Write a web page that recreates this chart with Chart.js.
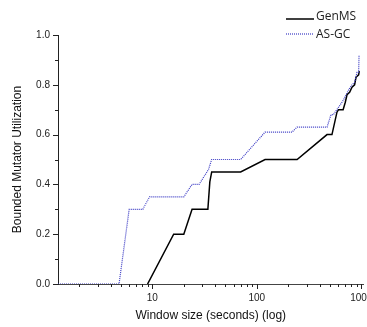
<!DOCTYPE html>
<html>
<head>
<meta charset="utf-8">
<script src="https://cdn.jsdelivr.net/npm/chart.js@4/dist/chart.umd.min.js"></script>
<style>
  html, body { margin: 0; padding: 0; background: #fff; }
  #wrap { width: 367px; height: 327px; }
</style>
</head>
<body>
<div id="wrap"><canvas id="c" width="367" height="327"></canvas></div>
<script>
// ---- data ----
const seriesNames = ['GenMS', 'AS-GC'];
const genmsX = [9, 16, 20, 24, 34, 35.5, 37, 70, 120, 243, 470, 524, 585, 606, 670, 703, 730, 773, 815, 863, 890, 943, 957];
const genmsY = [0, 0.20, 0.20, 0.30, 0.30, 0.41, 0.45, 0.45, 0.50, 0.50, 0.60, 0.60, 0.69, 0.70, 0.70, 0.73, 0.76, 0.77, 0.79, 0.80, 0.83, 0.84, 0.855];
const asgcX = [1.25, 4.8, 6.0, 8.1, 9.4, 20, 24, 28, 34.5, 37, 70, 120, 217, 243, 470, 513, 540, 630, 677, 756, 815, 863, 910, 943, 952];
const asgcY = [0, 0, 0.30, 0.30, 0.35, 0.35, 0.40, 0.40, 0.46, 0.50, 0.50, 0.61, 0.61, 0.63, 0.63, 0.68, 0.68, 0.72, 0.74, 0.78, 0.80, 0.81, 0.85, 0.85, 0.92];
const xMajorTicks = [10, 100, 1000];
const yMajorTicks = [0, 0.2, 0.4, 0.6, 0.8, 1.0];
const yMinorTicks = [0.1, 0.3, 0.5, 0.7, 0.9];
const xTitle = 'Window size (seconds) (log)';
const yTitle = 'Bounded Mutator Utilization';

const pts = (xs, ys) => xs.map((x, i) => ({x: x, y: ys[i]}));

const BLUE = 'rgb(58,58,196)';
const AXIS = '#222';

const tickPlugin = {
  id: 'tickMarks',
  afterDraw(chart) {
    const ctx = chart.ctx;
    const xs = chart.scales.x, ys = chart.scales.y;
    const ca = chart.chartArea;
    ctx.save();
    ctx.strokeStyle = AXIS;
    ctx.lineWidth = 1;
    // x ticks
    const xMinor = [];
    for (let d = 1; d <= 1000; d *= 10) for (let k = 2; k <= 9; k++) xMinor.push(d * k);
    ctx.beginPath();
    xMinor.forEach(v => {
      if (v < xs.min || v > xs.max) return;
      const p = Math.round(xs.getPixelForValue(v)) + 0.5;
      ctx.moveTo(p, ca.bottom); ctx.lineTo(p, ca.bottom + 3);
    });
    xMajorTicks.forEach(v => {
      const p = Math.round(xs.getPixelForValue(v)) + 0.5;
      ctx.moveTo(p, ca.bottom); ctx.lineTo(p, ca.bottom + 5);
    });
    yMajorTicks.forEach(v => {
      const p = Math.round(ys.getPixelForValue(v)) + 0.5;
      ctx.moveTo(ca.left - 5, p); ctx.lineTo(ca.left, p);
    });
    yMinorTicks.forEach(v => {
      const p = Math.round(ys.getPixelForValue(v)) + 0.5;
      ctx.moveTo(ca.left - 3, p); ctx.lineTo(ca.left, p);
    });
    ctx.stroke();

    // legend
    const items = [
      {name: seriesNames[0], color: '#000', dash: [], width: 1.5, y: 19, ty: 17},
      {name: seriesNames[1], color: BLUE, dash: [1, 1], width: 1.2, y: 34, ty: 35}
    ];
    items.forEach(it => {
      ctx.beginPath();
      ctx.setLineDash(it.dash);
      ctx.strokeStyle = it.color;
      ctx.lineWidth = it.width;
      ctx.moveTo(286, it.y); ctx.lineTo(314, it.y);
      ctx.stroke();
      ctx.setLineDash([]);
      ctx.fillStyle = '#222';
      ctx.font = '12px "Open Sans"';
      ctx.textBaseline = 'middle';
      ctx.textAlign = 'left';
      ctx.fillText(it.name, 316, it.ty);
    });
    ctx.restore();
  }
};

new Chart(document.getElementById('c'), {
  type: 'line',
  data: {
    datasets: [
      {
        label: seriesNames[1],
        data: pts(asgcX, asgcY),
        borderColor: BLUE,
        borderWidth: 1.2,
        borderDash: [1, 1],
        pointRadius: 0,
        tension: 0,
        fill: false
      },
      {
        label: seriesNames[0],
        data: pts(genmsX, genmsY),
        borderColor: '#000',
        borderWidth: 1.5,
        pointRadius: 0,
        tension: 0,
        fill: false
      }
    ]
  },
  options: {
    responsive: false,
    animation: false,
    devicePixelRatio: 1,
    layout: { padding: { top: 35, right: 3.5, left: 0, bottom: 0 } },
    plugins: { legend: { display: false }, tooltip: { enabled: false } },
    scales: {
      x: {
        type: 'logarithmic',
        min: 1.25,
        max: 1050,
        grid: { display: false, drawTicks: false },
        border: { display: true, color: '#444', width: 1 },
        afterBuildTicks: s => { s.ticks = xMajorTicks.map(v => ({value: v, major: true})); },
        afterFit: s => { s.height = 43; s.paddingLeft = 0; s.paddingRight = 0; },
        ticks: {
          autoSkip: false,
          maxRotation: 0,
          padding: 8,
          color: AXIS,
          font: { family: '"Liberation Sans", Arial, sans-serif', size: 10 },
          callback: v => String(v)
        },
        title: {
          display: true,
          text: xTitle,
          color: '#111',
          font: { family: '"Liberation Sans", Arial, sans-serif', size: 12 },
          padding: { top: 0, bottom: 4 }
        }
      },
      y: {
        min: 0,
        max: 1.0,
        grid: { display: false, drawTicks: false },
        border: { display: true, color: AXIS, width: 1 },
        afterBuildTicks: s => { s.ticks = yMajorTicks.map(v => ({value: v})); },
        afterFit: s => { s.width = 58; s.paddingTop = 0; s.paddingBottom = 0; },
        ticks: {
          padding: 8,
          color: AXIS,
          font: { family: '"Liberation Sans", Arial, sans-serif', size: 10 },
          callback: v => Number(v).toFixed(1)
        },
        title: {
          display: true,
          text: yTitle,
          color: '#111',
          font: { family: '"Liberation Sans", Arial, sans-serif', size: 12 },
          padding: { top: 10, bottom: 0 }
        }
      }
    }
  },
  plugins: [tickPlugin]
});
</script>
</body>
</html>
